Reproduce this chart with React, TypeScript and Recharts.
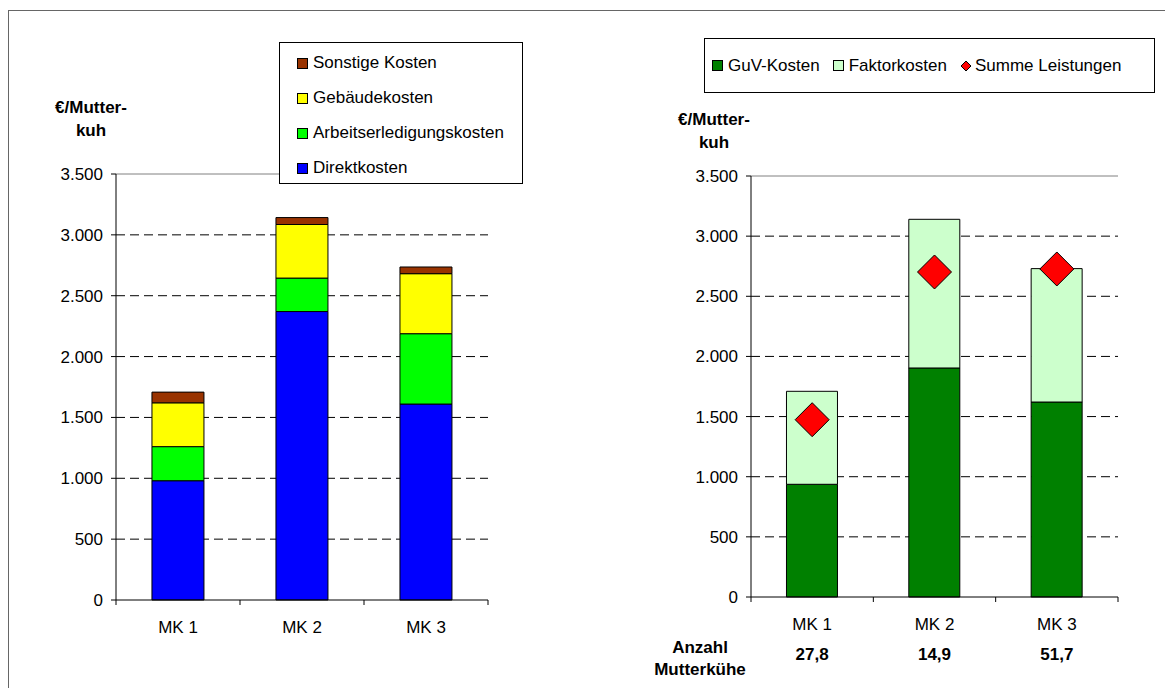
import {
  BarChart,
  ComposedChart,
  Bar,
  Line,
  XAxis,
  YAxis,
  CartesianGrid,
  ReferenceLine,
} from "recharts";

const categories = ["MK 1", "MK 2", "MK 3"];

// left chart: cost structure per suckler cow
const direktkosten = [980, 2370, 1610];
const arbeitserledigungskosten = [280, 275, 578];
const gebaeudekosten = [360, 440, 493];
const sonstigeKosten = [88, 57, 55];

// right chart
const guvKosten = [937, 1904, 1621];
const faktorkosten = [773, 1236, 1109];
const summeLeistungen = [1474, 2702, 2727];
const anzahlMutterkuehe = [27.8, 14.9, 51.7];

const yTicks = [0, 500, 1000, 1500, 2000, 2500, 3000, 3500];

const FONT = "'Liberation Sans', Arial, sans-serif";

const leftData = categories.map((name, i) => ({
  name,
  direkt: direktkosten[i],
  arbeit: arbeitserledigungskosten[i],
  gebaeude: gebaeudekosten[i],
  sonstige: sonstigeKosten[i],
}));

const rightData = categories.map((name, i) => ({
  name,
  guv: guvKosten[i],
  faktor: faktorkosten[i],
  leistung: summeLeistungen[i],
  anzahl: anzahlMutterkuehe[i],
}));

const fmtThousands = (v: number) =>
  String(v).replace(/\B(?=(\d{3})+(?!\d))/g, ".");

const fmtComma = (v: number) => v.toFixed(1).replace(".", ",");

const gridValues = yTicks.filter((v) => v > 0 && v < 3500);

function CategoryTick(props: any) {
  const { x, y, payload, index, withCount } = props;
  const half = payload?.offset ?? 62;
  const last = index === categories.length - 1;
  const row = rightData[index];
  return (
    <g>
      <line x1={x - half} y1={y} x2={x - half} y2={y + 5} stroke="#000" />
      {last && (
        <line x1={x + half} y1={y} x2={x + half} y2={y + 5} stroke="#000" />
      )}
      <text
        x={x}
        y={y + 27}
        textAnchor="middle"
        dominantBaseline="central"
        fontSize={17}
        fontFamily={FONT}
        fill="#000"
      >
        {payload.value}
      </text>
      {withCount && row && (
        <text
          x={x}
          y={y + 57}
          textAnchor="middle"
          dominantBaseline="central"
          fontSize={17}
          fontWeight="bold"
          fontFamily={FONT}
          fill="#000"
        >
          {fmtComma(row.anzahl)}
        </text>
      )}
    </g>
  );
}

function Diamond(props: any) {
  const { cx, cy } = props;
  if (cx == null || cy == null) return null;
  const r = 17;
  return (
    <polygon
      points={`${cx},${cy - r} ${cx + r},${cy} ${cx},${cy + r} ${cx - r},${cy}`}
      fill="#FF0000"
      stroke="#000"
      strokeWidth={1}
    />
  );
}

function Swatch({ color }: { color: string }) {
  return (
    <span
      style={{
        display: "inline-block",
        width: 9,
        height: 9,
        background: color,
        border: "1px solid #000",
        marginRight: 5,
      }}
    />
  );
}

const yTitle = (left: number, top: number) => (
  <div
    style={{
      position: "absolute",
      left,
      top,
      width: 90,
      textAlign: "center",
      fontWeight: "bold",
      fontSize: 17,
      lineHeight: "23px",
    }}
  >
    €/Mutter-
    <br />
    kuh
  </div>
);

export default function App() {
  const axisTick = { fontSize: 17, fill: "#000", fontFamily: FONT };
  return (
    <div
      style={{
        position: "absolute",
        left: 0,
        top: 0,
        width: 1165,
        height: 688,
        background: "#fff",
        overflow: "hidden",
        fontFamily: FONT,
        color: "#000",
      }}
    >
      <div
        style={{
          position: "absolute",
          left: 8,
          top: 10,
          width: 1165,
          height: 700,
          borderLeft: "1px solid #666",
          borderTop: "1px solid #666",
        }}
      />

      {/* left chart */}
      <div style={{ position: "absolute", left: 0, top: 0 }}>
        <BarChart
          width={600}
          height={688}
          data={leftData}
          margin={{ top: 174, right: 112, bottom: 48, left: 56 }}
          barCategoryGap="29%"
        >
          <CartesianGrid
            vertical={false}
            horizontalValues={gridValues}
            stroke="#000"
            strokeDasharray="9 5"
          />
          <XAxis
            dataKey="name"
            height={40}
            tickLine={false}
            tickSize={0}
            tickMargin={0}
            axisLine={{ stroke: "#000" }}
            tick={<CategoryTick />}
            interval={0}
          />
          <YAxis
            domain={[0, 3500]}
            ticks={yTicks}
            width={60}
            tickSize={5}
            tickMargin={8}
            tick={axisTick}
            axisLine={{ stroke: "#000" }}
            tickLine={{ stroke: "#000" }}
            tickFormatter={fmtThousands}
          />
          <YAxis
            yAxisId="frame"
            orientation="right"
            domain={[0, 3500]}
            width={0}
            tick={false}
            tickLine={false}
            axisLine={{ stroke: "#808080" }}
          />
          <ReferenceLine y={3500} stroke="#808080" />
          <Bar dataKey="direkt" stackId="a" fill="#0000FF" stroke="#000" isAnimationActive={false} />
          <Bar dataKey="arbeit" stackId="a" fill="#00FF00" stroke="#000" isAnimationActive={false} />
          <Bar dataKey="gebaeude" stackId="a" fill="#FFFF00" stroke="#000" isAnimationActive={false} />
          <Bar dataKey="sonstige" stackId="a" fill="#993300" stroke="#000" isAnimationActive={false} />
        </BarChart>
      </div>

      {/* right chart */}
      <div style={{ position: "absolute", left: 600, top: 0 }}>
        <ComposedChart
          width={565}
          height={688}
          data={rightData}
          margin={{ top: 176, right: 47, bottom: 31, left: 91 }}
          barCategoryGap="29%"
        >
          <CartesianGrid
            vertical={false}
            horizontalValues={gridValues}
            stroke="#000"
            strokeDasharray="9 5"
          />
          <XAxis
            dataKey="name"
            height={60}
            tickLine={false}
            tickSize={0}
            tickMargin={0}
            axisLine={{ stroke: "#000" }}
            tick={<CategoryTick withCount />}
            interval={0}
          />
          <YAxis
            domain={[0, 3500]}
            ticks={yTicks}
            width={60}
            tickSize={5}
            tickMargin={8}
            tick={axisTick}
            axisLine={{ stroke: "#000" }}
            tickLine={{ stroke: "#000" }}
            tickFormatter={fmtThousands}
          />
          <YAxis
            yAxisId="frame"
            orientation="right"
            domain={[0, 3500]}
            width={0}
            tick={false}
            tickLine={false}
            axisLine={{ stroke: "#808080" }}
          />
          <ReferenceLine y={3500} stroke="#808080" />
          <Bar dataKey="guv" stackId="b" fill="#008000" stroke="#000" isAnimationActive={false} />
          <Bar dataKey="faktor" stackId="b" fill="#CCFFCC" stroke="#000" isAnimationActive={false} />
          <Line
            dataKey="leistung"
            stroke="none"
            dot={<Diamond />}
            activeDot={false}
            isAnimationActive={false}
          />
        </ComposedChart>
      </div>

      {yTitle(46, 96)}
      {yTitle(669, 108)}

      <div
        style={{
          position: "absolute",
          left: 650,
          top: 637,
          width: 100,
          textAlign: "center",
          fontWeight: "bold",
          fontSize: 17,
          lineHeight: "22px",
        }}
      >
        Anzahl
        <br />
        Mutterkühe
      </div>

      {/* left legend */}
      <div
        style={{
          position: "absolute",
          left: 279,
          top: 42,
          width: 242,
          height: 140,
          border: "1px solid #000",
          background: "#fff",
          fontSize: 17,
        }}
      >
        {[
          ["Sonstige Kosten", "#993300"],
          ["Gebäudekosten", "#FFFF00"],
          ["Arbeitserledigungskosten", "#00FF00"],
          ["Direktkosten", "#0000FF"],
        ].map(([label, color], i) => (
          <div
            key={label}
            style={{
              position: "absolute",
              left: 17,
              top: 8 + i * 35,
              height: 24,
              lineHeight: "24px",
              display: "flex",
              alignItems: "center",
              whiteSpace: "nowrap",
            }}
          >
            <Swatch color={color} />
            {label}
          </div>
        ))}
      </div>

      {/* right legend */}
      <div
        style={{
          position: "absolute",
          left: 704,
          top: 38,
          width: 449,
          height: 53,
          border: "1px solid #000",
          background: "#fff",
          fontSize: 17,
          display: "flex",
          alignItems: "center",
          whiteSpace: "nowrap",
        }}
      >
        <span style={{ marginLeft: 7, display: "flex", alignItems: "center" }}>
          <Swatch color="#008000" />
          GuV-Kosten
        </span>
        <span style={{ marginLeft: 13, display: "flex", alignItems: "center" }}>
          <Swatch color="#CCFFCC" />
          Faktorkosten
        </span>
        <span style={{ marginLeft: 13, display: "flex", alignItems: "center" }}>
          <svg width={12} height={12} style={{ marginRight: 3 }}>
            <polygon points="6,1 11,6 6,11 1,6" fill="#FF0000" stroke="#000" />
          </svg>
          Summe Leistungen
        </span>
      </div>
    </div>
  );
}
